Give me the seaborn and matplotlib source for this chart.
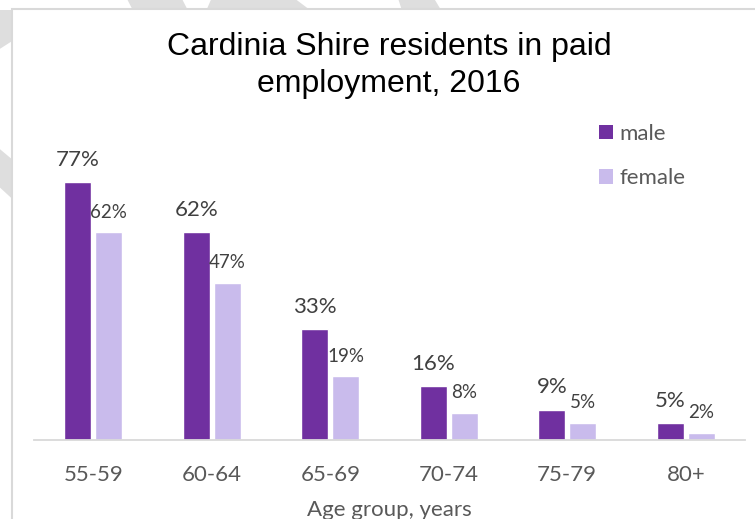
import matplotlib
matplotlib.use('Agg')
import matplotlib.pyplot as plt
import matplotlib.patches as mpatches
import pandas as pd
import seaborn as sns

age_groups = ['55-59', '60-64', '65-69', '70-74', '75-79', '80+']
male = [77, 62, 33, 16, 9, 5]
female = [62, 47, 19, 8, 5, 2]
series = ['male', 'female']
colors = ['#7030A0', '#C9BBEC']

W, H = 755, 519


def px(x, y):
    # pixel position (from top-left) -> figure fraction
    return x / W, 1 - y / H


sns.set_theme(style='white')
plt.rcParams['font.family'] = ['Lato', 'DejaVu Sans']

fig = plt.figure(figsize=(W / 100, H / 100), dpi=100)

# faint watermark stripes peeking out behind the chart frame
stripes = [
    [(125, -5), (180, -5), (198, 30), (143, 30)],
    [(213, -5), (290, -5), (330, 25), (200, 25)],
    [(397, -5), (432, -5), (447, 20), (405, 20)],
    [(-5, 10), (20, 10), (20, 36), (-5, 52)],
    [(-5, 145), (20, 166), (20, 206), (-5, 183)],
]
for pts in stripes:
    fig.patches.append(mpatches.Polygon([px(*p) for p in pts], closed=True,
                                        transform=fig.transFigure, facecolor='#DEDEDE',
                                        edgecolor='none', zorder=-3))
frame = mpatches.Rectangle(px(12, 560), (800 - 12) / W, (560 - 9) / H,
                           transform=fig.transFigure, facecolor='white',
                           edgecolor='#D9D9D9', linewidth=1.5, zorder=-2)
fig.patches.append(frame)

ax = fig.add_axes([34 / W, (H - 440) / H, (745 - 34) / W, (440 - 100) / H])
ax.patch.set_alpha(0)

df = pd.DataFrame({
    'age': age_groups * 2,
    'sex': ['male'] * len(male) + ['female'] * len(female),
    'pct': male + female,
})
sns.barplot(data=df, x='age', y='pct', hue='sex', palette=colors, saturation=1,
            width=0.515, gap=0.115, legend=False, ax=ax)

for cont, vals, fs, pad in zip(ax.containers, [male, female], [16, 13.5], [9, 8.5]):
    ax.bar_label(cont, labels=[f'{v}%' for v in vals], fontsize=fs, padding=pad,
                 color='#404040')

ax.set_xlim(-0.5, 5.5)
ax.set_ylim(0, 101.5)
ax.set_yticks([])
ax.set_ylabel('')
for side in ['left', 'right', 'top']:
    ax.spines[side].set_visible(False)
ax.spines['bottom'].set_color('#D9D9D9')
ax.spines['bottom'].set_linewidth(1.3)
ax.tick_params(axis='x', length=0, pad=18, labelsize=16, labelcolor='#595959')
ax.set_xlabel('Age group, years', fontsize=16, color='#595959', labelpad=11)

handles = [mpatches.Patch(facecolor=c, edgecolor='none') for c in colors]
fig.legend(handles, series, loc='upper left', bbox_to_anchor=px(599, 124),
           frameon=False, fontsize=16, handlelength=0.62, handleheight=0.62,
           handletextpad=0.3, labelspacing=1.1, borderaxespad=0, borderpad=0,
           labelcolor='#595959')

fig.text(389 / W, 1 - 32 / H, 'Cardinia Shire residents in paid\nemployment, 2016',
         ha='center', va='top', fontsize=23, family=['Liberation Sans', 'DejaVu Sans'],
         linespacing=1.3, color='black')

fig.savefig('out.png', dpi=100)
